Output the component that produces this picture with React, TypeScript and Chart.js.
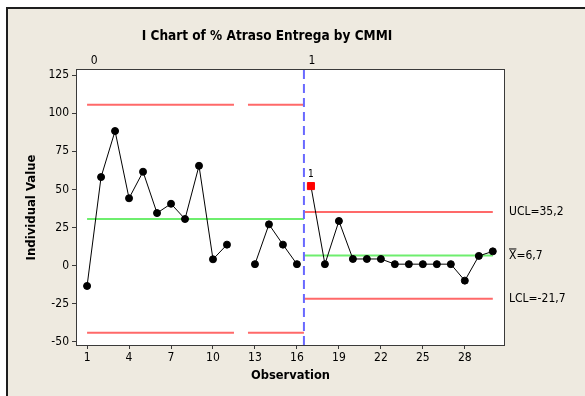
import { useEffect, useRef } from 'react';
import { Chart, registerables } from 'chart.js';

Chart.register(...registerables);

// ---- Data ----
const stage0Obs = [1, 2, 3, 4, 5, 6, 7, 8, 9, 10, 11, 12, 13, 14, 15, 16];
const stage0Values = [-13.3, 58.1, 88.3, 44.2, 61.6, 34.5, 40.6, 30.6, 65.5, 4.2, 13.8, null, 1, 27.1, 13.8, 1];
const stage1Obs = [17, 18, 19, 20, 21, 22, 23, 24, 25, 26, 27, 28, 29, 30];
const stage1Values = [52.2, 1, 29.3, 4.4, 4.4, 4.4, 1, 1, 1, 1, 1, -9.8, 6.4, 9.4];
const outOfControl = [17];

const stageNames = ['0', '1'];
const stageBoundary = 16.5;
const stage0Limits = { ucl: 105.5, cl: 30.6, lcl: -43.9 };
const stage1Limits = { ucl: 35.2, cl: 6.7, lcl: -21.7 };
const stage0LimitSpans = [[1, 11.5], [12.5, 16.5]];
const stage0CenterSpan = [1, 16.5];
const stage1Span = [16.5, 30];

const xTicks = [1, 4, 7, 10, 13, 16, 19, 22, 25, 28];
const yTicks = [-50, -25, 0, 25, 50, 75, 100, 125];
const xRange = [0.28, 30.8];
const yRange = [-52, 128.3];

const title = 'I Chart of % Atraso Entrega by CMMI';
const xTitle = 'Observation';
const yTitle = 'Individual Value';
const uclLabel = 'UCL=35,2';
const clLabel = '=6,7';
const lclLabel = 'LCL=-21,7';

const RED = 'rgb(255,105,105)';
const GREEN = 'rgb(110,238,110)';
const BLUE = 'rgb(105,105,255)';
const FAM = "'DejaVu Sans Condensed', 'DejaVu Sans', sans-serif";

function segs(spans: number[][], y: number) {
  const out: any[] = [];
  spans.forEach((s, i) => {
    if (i > 0) out.push({ x: (spans[i - 1][1] + s[0]) / 2, y: null });
    out.push({ x: s[0], y }, { x: s[1], y });
  });
  return out;
}

function fitFont(ctx: CanvasRenderingContext2D, text: string, weight: string, target: number) {
  let size = 8;
  for (let s = 8; s <= 20; s += 0.25) {
    ctx.font = `${weight} ${s}px ${FAM}`;
    if (ctx.measureText(text).width <= target) size = s;
  }
  ctx.font = `${weight} ${size}px ${FAM}`;
}

const decor = {
  id: 'decor',
  beforeDraw(chart: any) {
    const { ctx, chartArea: a } = chart;
    ctx.save();
    ctx.fillStyle = '#ffffff';
    ctx.fillRect(0, 0, chart.width, chart.height);
    ctx.fillStyle = '#EEEAE0';
    ctx.fillRect(6, 7, chart.width - 6, chart.height - 7);
    ctx.fillStyle = '#1e1e1e';
    ctx.fillRect(6, 7, chart.width - 6, 2);
    ctx.fillRect(6, 7, 2, chart.height - 7);
    ctx.fillStyle = '#ffffff';
    ctx.fillRect(a.left, a.top, a.right - a.left, a.bottom - a.top);
    ctx.restore();
  },
  afterDraw(chart: any) {
    const { ctx, chartArea: a, scales } = chart;
    const xs = scales.x, ys = scales.y;
    ctx.save();
    ctx.strokeStyle = '#3a3a3a';
    ctx.lineWidth = 1;
    ctx.strokeRect(a.left - 0.5, a.top - 0.5, a.right - a.left + 1, a.bottom - a.top + 1);

    ctx.fillStyle = '#000';
    ctx.textAlign = 'center';
    ctx.textBaseline = 'middle';
    fitFont(ctx, title, 'bold', 251);
    ctx.fillText(title, 267, 36);

    fitFont(ctx, xTitle, 'bold', 79);
    ctx.fillText(xTitle, (a.left + a.right) / 2, 376);

    ctx.save();
    ctx.translate(32, (a.top + a.bottom) / 2);
    ctx.rotate(-Math.PI / 2);
    fitFont(ctx, yTitle, 'bold', 107);
    ctx.fillText(yTitle, 0, 0);
    ctx.restore();

    ctx.font = `12px ${FAM}`;
    ctx.fillText(stageNames[0], xs.getPixelForValue(stage0Obs[0]) + 7, 61);
    ctx.fillText(stageNames[1], xs.getPixelForValue(stage1Obs[0]) + 1, 61);

    ctx.textAlign = 'left';
    const lx = a.right + 5;
    ctx.fillText(uclLabel, lx, ys.getPixelForValue(stage1Limits.ucl));
    ctx.fillText(lclLabel, lx, ys.getPixelForValue(stage1Limits.lcl));
    const cy = ys.getPixelForValue(stage1Limits.cl);
    ctx.fillText('X', lx, cy);
    const xw = ctx.measureText('X').width;
    ctx.fillText(clLabel, lx + xw, cy);
    ctx.fillRect(lx, cy - 7, xw, 1);

    ctx.font = `10px ${FAM}`;
    ctx.textAlign = 'center';
    outOfControl.forEach((o) => {
      const idx = stage1Obs.indexOf(o);
      ctx.fillText('1', xs.getPixelForValue(o), ys.getPixelForValue(stage1Values[idx]) - 12);
    });
    ctx.restore();
  },
};

export default function App() {
  const ref = useRef<HTMLCanvasElement>(null);
  useEffect(() => {
    const s0 = stage0Obs.map((x, i) => ({ x, y: stage0Values[i] }));
    const s1 = stage1Obs.map((x, i) => ({ x, y: stage1Values[i] }));
    const s1Style = stage1Obs.map((o) => (outOfControl.includes(o) ? 'rect' : 'circle'));
    const s1Color = stage1Obs.map((o) => (outOfControl.includes(o) ? '#ff0000' : '#000'));
    const s1Radius = stage1Obs.map((o) => (outOfControl.includes(o) ? 5 : 3.5));
    const limitDs = (data: any[], color: string) => ({
      data,
      borderColor: color,
      borderWidth: 2,
      pointRadius: 0,
      spanGaps: false,
      order: 2,
    });
    const chart = new Chart(ref.current!, {
      type: 'line',
      data: {
        datasets: [
          {
            data: s0, borderColor: '#000', borderWidth: 1, pointRadius: 3.5,
            pointBackgroundColor: '#000', pointBorderColor: '#000', spanGaps: false, order: 0,
          },
          {
            data: s1, borderColor: '#000', borderWidth: 1, pointRadius: s1Radius,
            pointStyle: s1Style as any, pointBackgroundColor: s1Color, pointBorderColor: s1Color, order: 0,
          },
          limitDs(segs(stage0LimitSpans, stage0Limits.ucl), RED),
          limitDs(segs(stage0LimitSpans, stage0Limits.lcl), RED),
          limitDs(segs([stage0CenterSpan], stage0Limits.cl), GREEN),
          limitDs(segs([stage1Span], stage1Limits.ucl), RED),
          limitDs(segs([stage1Span], stage1Limits.lcl), RED),
          limitDs(segs([stage1Span], stage1Limits.cl), GREEN),
          {
            data: [{ x: stageBoundary, y: yRange[0] }, { x: stageBoundary, y: yRange[1] }],
            borderColor: BLUE, borderWidth: 2, borderDash: [9, 5], pointRadius: 0, order: 1,
          },
        ],
      },
      options: {
        animation: false,
        responsive: false,
        devicePixelRatio: 1,
        layout: { padding: { left: 0, top: 70, right: 81, bottom: 0 } },
        plugins: { legend: { display: false }, tooltip: { enabled: false }, title: { display: false } },
        elements: { line: { tension: 0 } },
        scales: {
          x: {
            type: 'linear', min: xRange[0], max: xRange[1],
            afterBuildTicks: (s: any) => { s.ticks = xTicks.map((v) => ({ value: v })); },
            afterFit: (s: any) => { s.height = 51; },
            grid: { drawOnChartArea: false, drawTicks: true, tickLength: 4, color: '#3a3a3a' },
            border: { display: false },
            ticks: { color: '#000', font: { family: FAM, size: 12 }, padding: 2, maxRotation: 0, autoSkip: false },
          },
          y: {
            type: 'linear', min: yRange[0], max: yRange[1],
            afterBuildTicks: (s: any) => { s.ticks = yTicks.map((v) => ({ value: v })); },
            afterFit: (s: any) => { s.width = 77; },
            grid: { drawOnChartArea: false, drawTicks: true, tickLength: 5, color: '#3a3a3a' },
            border: { display: false },
            ticks: { color: '#000', font: { family: FAM, size: 12 }, padding: 3 },
          },
        },
      },
      plugins: [decor],
    });
    return () => chart.destroy();
  }, []);
  return (
    <div style={{ position: 'absolute', left: 0, top: 0, width: 585, height: 396 }}>
      <canvas ref={ref} width={585} height={396} style={{ width: 585, height: 396 }} />
    </div>
  );
}
